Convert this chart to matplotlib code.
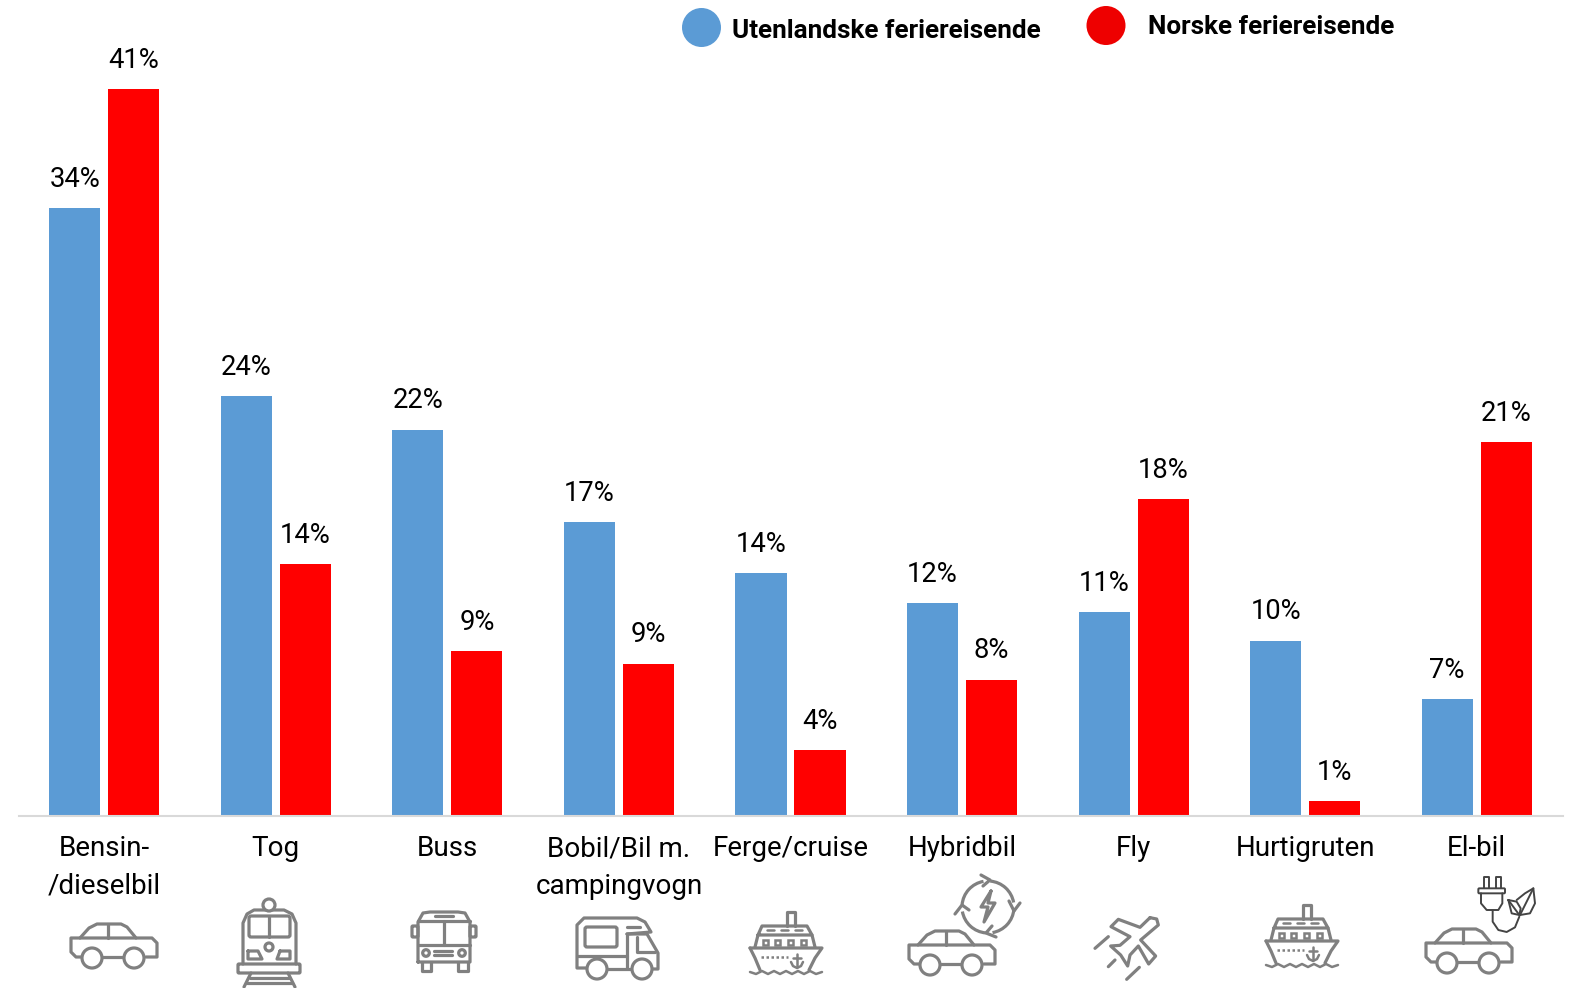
import matplotlib
matplotlib.use("Agg")
import matplotlib.pyplot as plt
import numpy as np
from matplotlib.patches import Circle, Ellipse, FancyBboxPatch, Arc

categories = ["Bensin-\n/dieselbil", "Tog", "Buss", "Bobil/Bil m.\ncampingvogn", "Ferge/cruise",
              "Hybridbil", "Fly", "Hurtigruten", "El-bil"]
foreign_vals = [34.3, 23.7, 21.8, 16.6, 13.7, 12.0, 11.5, 9.9, 6.6]
norway_vals = [41.0, 14.2, 9.3, 8.6, 3.7, 7.7, 17.9, 0.85, 21.1]
foreign_labels = ["34%", "24%", "22%", "17%", "14%", "12%", "11%", "10%", "7%"]
norway_labels = ["41%", "14%", "9%", "9%", "4%", "8%", "18%", "1%", "21%"]
legend_names = ["Utenlandske feriereisende", "Norske feriereisende"]

BLUE = "#5B9BD5"
RED = "#FF0000"
GREY = "#808080"
FONT = "Roboto"

W, H = 1570, 988
fig = plt.figure(figsize=(W / 100, H / 100), dpi=100, facecolor="white")
L, R, TOP, BASE = 18.5, 1562.5, 40, 816
ax = fig.add_axes([L / W, 1 - BASE / H, (R - L) / W, (BASE - TOP) / H])
x = np.arange(len(categories))
bw, off = 0.298, 0.172
b1 = ax.bar(x - off, foreign_vals, bw, color=BLUE)
b2 = ax.bar(x + off, norway_vals, bw, color=RED)
ax.bar_label(b1, labels=foreign_labels, padding=11, fontsize=19.7, family=FONT, color="black")
ax.bar_label(b2, labels=norway_labels, padding=11, fontsize=19.7, family=FONT, color="black")
ax.set_xlim(-0.5, 8.5)
ax.set_ylim(0, (BASE - TOP) / 17.72)
ax.set_yticks([])
ax.set_xticks(x)
ax.set_xticklabels(categories, fontsize=20, family=FONT, linespacing=1.49, color="black")
ax.tick_params(axis="x", length=0, pad=14)
for s in ["top", "left", "right"]:
    ax.spines[s].set_visible(False)
ax.spines["bottom"].set_color("#D9D9D9")
ax.spines["bottom"].set_linewidth(1.5)
ax.patch.set_alpha(0)

# overlay in pixel coordinates for legend and pictograms
ov = fig.add_axes([0, 0, 1, 1])
ov.set_xlim(0, W)
ov.set_ylim(H, 0)
ov.axis("off")
ov.patch.set_alpha(0)

ov.add_patch(Ellipse((701.5, 27.5), 39, 39, color=BLUE, lw=0))
ov.add_patch(Ellipse((1106, 25.5), 39, 39, color="#EE0000", lw=0))
ov.text(732, 31.5, legend_names[0], fontsize=18.8, fontweight="bold", family=FONT, va="center")
ov.text(1148, 27.5, legend_names[1], fontsize=18.8, fontweight="bold", family=FONT, va="center")

LW = 2.3


def line(pts, dx=0, dy=0, lw=LW, c=GREY, closed=False, ls="-"):
    p = np.array(pts, float) + [dx, dy]
    if closed:
        p = np.vstack([p, p[0]])
    ov.plot(p[:, 0], p[:, 1], color=c, lw=lw, ls=ls, solid_joinstyle="round", solid_capstyle="round")


def circ(cx, cy, r, lw=LW, c=GREY):
    ov.add_patch(Circle((cx, cy), r, fill=True, fc="white", ec=c, lw=lw, zorder=3))


def rrect(x0, y0, x1, y1, rad=2, lw=LW, c=GREY):
    ov.add_patch(FancyBboxPatch((x0 + rad, y0 + rad), x1 - x0 - 2 * rad, y1 - y0 - 2 * rad,
                                boxstyle=f"round,pad={rad}", fc="none", ec=c, lw=lw))


def car(dx=0, dy=0):
    line([(80, 938), (89, 928), (97, 924), (121, 924), (127, 927), (136, 938), (152, 938), (157, 943),
          (157, 957), (146, 957)], dx, dy)
    line([(124, 957), (102, 957)], dx, dy)
    line([(82, 957), (76, 957), (71, 952), (71, 938), (80, 938), (136, 938)], dx, dy)
    line([(108, 924), (108, 938)], dx, dy)
    circ(92 + dx, 958 + dy, 10)
    circ(134 + dx, 958 + dy, 10)


def ship(dx=0, dy=0):
    line([(787, 926), (787, 912), (795, 912), (795, 926)], dx, dy)
    line([(758, 935), (762, 926), (807, 926), (812, 935), (758, 935)], dx, dy)
    line([(758, 935), (755, 947)], dx, dy)
    line([(812, 935), (815, 947)], dx, dy)
    line([(750, 948), (822, 948), (815, 958), (809, 970)], dx, dy)
    line([(750, 948), (755, 958), (760, 970)], dx, dy)
    for xx in (767, 781, 795):
        line([(xx, 930), (xx + 7, 930)], dx, dy, lw=1.8)
    for xx in (765, 777, 790, 803):
        ov.add_patch(plt.Rectangle((xx - 2.5 + dx, 939.5 + dy), 5, 5, fc="none", ec=GREY, lw=1.8))
    line([(761, 957), (788, 957)], dx, dy, lw=1.8, ls=(0, (1, 1)))
    line([(797, 954), (797, 967)], dx, dy, lw=1.8)
    line([(793, 958), (801, 958)], dx, dy, lw=1.8)
    line([(791, 962), (793, 966), (797, 968), (801, 966), (803, 962)], dx, dy, lw=1.8)
    xs = np.array([750, 756, 762, 768, 774, 780, 786, 792, 798, 804, 810, 816, 822], float)
    ys = np.array([972, 974, 971, 974, 971, 974, 971, 974, 971, 974, 971, 974, 972], float)
    line(np.c_[xs, ys], dx, dy, lw=1.8)


# Bensin/diesel car
car()

# Train
circ(269, 905, 6)
line([(243, 964), (243, 923), (247, 914), (254, 910), (284, 910), (292, 914), (296, 923), (296, 964)])
rrect(249, 916, 290, 937, rad=2)
line([(269, 916), (269, 937)])
circ(269, 947, 4)
line([(248, 951), (258, 951), (262, 959), (248, 959), (248, 951)])
line([(280, 951), (290, 951), (290, 959), (277, 959), (280, 951)])
rrect(238, 964, 300, 973, rad=1)
line([(251, 973), (244, 987)])
line([(288, 973), (295, 987)])
line([(250, 978), (289, 978)])
line([(247, 983), (292, 983)])

# Bus
line([(418, 962), (418, 922), (423, 913), (430, 912), (458, 912), (465, 913), (470, 922), (470, 962), (418, 962)])
line([(418, 921), (470, 921)])
line([(418, 945), (470, 945)])
line([(444, 921), (444, 945)])
line([(435, 916), (453, 916)])
rrect(412, 926, 418, 937, rad=1)
rrect(470, 926, 476, 937, rad=1)
circ(426, 953, 3.3)
circ(462, 953, 3.3)
line([(434, 951), (452, 951)])
line([(434, 955), (452, 955)])
line([(422, 962), (422, 971), (431, 971), (431, 962)])
line([(458, 962), (458, 971), (468, 971), (468, 962)])

# Camper
line([(587, 968), (577, 968), (577, 925), (584, 918), (637, 918), (645, 922), (651, 932), (627, 934)])
line([(627, 934), (647, 934), (658, 953), (658, 969), (652, 969)])
line([(632, 969), (607, 969)])
rrect(585, 927, 617, 947, rad=2)
line([(627, 927), (640, 927)])
line([(637, 937), (637, 952), (655, 952)])
line([(627, 934), (627, 968)])
line([(577, 956), (627, 956)])
circ(597, 969, 10)
circ(642, 969, 10)

# Ferry
ship()

# Hybrid
car(838, 7)
for t1, t2 in ((5, 80), (95, 170), (185, 260), (275, 350)):
    ov.add_patch(Arc((988, 907), 52, 52, theta1=t1, theta2=t2, color=GREY, lw=LW))
line([(981, 875), (990, 880), (983, 886)])
line([(1009, 901), (1014, 911), (1020, 903)])
line([(955, 914), (962, 905), (969, 910)])
line([(992, 926), (986, 933), (996, 937)])
line([(991, 891), (981, 907), (988, 907), (984, 922), (995, 903), (988, 903), (991, 891)])


# Plane
def z3(pts):
    return [(1050 + a / 3, 820 + b / 3) for a, b in pts]


line(z3([(300, 293), (320, 297), (325, 315), (272, 360), (317, 408), (296, 432), (265, 378), (240, 405), (233, 438),
         (212, 405), (182, 378), (210, 376), (240, 350), (183, 320), (205, 298), (270, 322), (300, 293)]))
line(z3([(135, 385), (175, 350)]))
line(z3([(175, 440), (195, 420)]))
line(z3([(230, 478), (268, 442)]))

# Hurtigruten
ship(516, -7)

# El car
car(1355, 5)
K = "#444444"
line(z3([(1303, 205), (1303, 172), (1317, 172), (1317, 205)]), lw=1.4, c=K)
line(z3([(1338, 205), (1338, 172), (1352, 172), (1352, 205)]), lw=1.4, c=K)
rrect(1050 + 1285 / 3, 820 + 205 / 3, 1050 + 1365 / 3, 820 + 220 / 3, rad=1, lw=1.4, c=K)
line(z3([(1293, 220), (1293, 250), (1310, 270), (1345, 270), (1357, 250), (1357, 220)]), lw=1.4, c=K)
line(z3([(1328, 272), (1328, 305), (1345, 330), (1370, 336), (1395, 322), (1408, 290)]), lw=1.4, c=K)
line(z3([(1375, 240), (1400, 245), (1412, 265), (1408, 285), (1385, 280), (1375, 240)]), lw=1.4, c=K)
line(z3([(1400, 240), (1425, 220), (1450, 205), (1455, 250), (1440, 280), (1410, 285)]), lw=1.4, c=K)
line(z3([(1450, 205), (1410, 285)]), lw=1.4, c=K)
line(z3([(1375, 240), (1408, 285)]), lw=1.4, c=K)

fig.savefig("out.png", dpi=100, facecolor="white")
